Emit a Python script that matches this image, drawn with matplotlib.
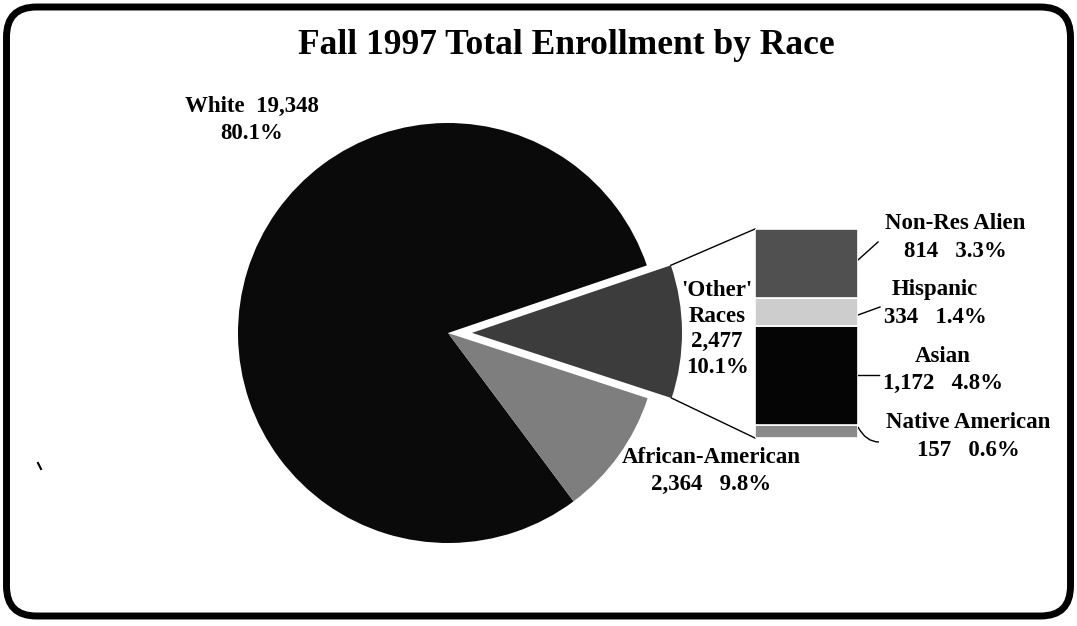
import matplotlib
matplotlib.use("Agg")
import matplotlib.pyplot as plt
from matplotlib.patches import FancyBboxPatch, PathPatch
from matplotlib.path import Path
import numpy as np

# ---------------- data ----------------
pie_categories = ["'Other'\nRaces", "White", "African-American"]
pie_counts = [2477, 19348, 2364]
pie_pcts = [10.1, 80.1, 9.8]

other_categories = ["Native American", "Asian", "Hispanic", "Non-Res Alien"]
other_counts = [157, 1172, 334, 814]
other_pcts = [0.6, 4.8, 1.4, 3.3]

title = "Fall 1997 Total Enrollment by Race"

# ---------------- styling ----------------
W, H = 1077, 626
FONT = "Liberation Serif"
pie_colors = ["#3c3c3c", "#0a0a0a", "#7e7e7e"]
bar_colors = ["#8a8a8a", "#050505", "#cdcdcd", "#505050"]

fig = plt.figure(figsize=(W / 100, H / 100), dpi=100)
ax = fig.add_axes([0, 0, 1, 1])

center = (448, H - 333)
radius = 210
wedges, _ = ax.pie(pie_counts, colors=pie_colors, startangle=-18.1,
                   counterclock=True, radius=radius, center=center,
                   explode=[24, 0, 0],
                   wedgeprops=dict(linewidth=0))
ax.set_aspect("auto")
ax.set_xlim(0, W)
ax.set_ylim(0, H)
ax.axis("off")

# border
ax.add_patch(FancyBboxPatch((6.5, 10), 1064, 609,
                            boxstyle="round,pad=0,rounding_size=30",
                            linewidth=5, edgecolor="black", facecolor="none",
                            zorder=5))
# small stray scan mark
ax.plot([38, 41], [H - 463, H - 469], color="black", lw=1.5)

# stacked bar for "other" races
bl, bb, bw, bh = 755, H - 438, 103, 209
ax_bar = fig.add_axes([bl / W, bb / H, bw / W, bh / H])
bottom = 0
for cnt, col in zip(other_counts, bar_colors):
    ax_bar.bar(0, cnt, bottom=bottom, width=1, color=col,
               edgecolor="white", linewidth=1.2)
    bottom += cnt
ax_bar.set_xlim(-0.5, 0.5)
ax_bar.set_ylim(0, sum(other_counts))
ax_bar.axis("off")

# connection lines from exploded wedge to bar
w = wedges[0]
cx, cy = w.center
r = w.r
top_pt = (cx + r * np.cos(np.radians(w.theta2)), cy + r * np.sin(np.radians(w.theta2)))
bot_pt = (cx + r * np.cos(np.radians(w.theta1)), cy + r * np.sin(np.radians(w.theta1)))
ax.plot([top_pt[0], bl], [top_pt[1], bb + bh], color="black", lw=1)
ax.plot([bot_pt[0], bl], [bot_pt[1], bb], color="black", lw=1)

# text
tkw = dict(fontfamily=FONT, fontweight="bold", ha="center")
ax.text(566, H - 54, title, fontsize=25.5, va="baseline", **tkw)

LFS = 16.5
ax.text(252, H - 120, f"White  {pie_counts[1]:,}\n{pie_pcts[1]}%",
        fontsize=LFS, linespacing=1.42, va="center", **tkw)
ax.text(717, H - 329, f"{pie_categories[0]}\n{pie_counts[0]:,}\n{pie_pcts[0]}%",
        fontsize=LFS, linespacing=1.3, va="center", **tkw)
ax.text(711, H - 471, f"{pie_categories[2]}\n{pie_counts[2]:,}   {pie_pcts[2]}%",
        fontsize=LFS, linespacing=1.42, va="center", **tkw)

label_pos = {"Non-Res Alien": (955, H - 237.5),
             "Hispanic": (935, H - 303.5),
             "Asian": (943, H - 370),
             "Native American": (968, H - 436.5)}
for cat, cnt, pct in zip(other_categories, other_counts, other_pcts):
    x, y = label_pos[cat]
    ax.text(x, y, f"{cat}\n{cnt:,}   {pct}%", fontsize=LFS,
            linespacing=1.38, va="center", **tkw)

# leader lines
br = bl + bw
ax.plot([br, 878], [H - 260, H - 242], color="black", lw=1)
ax.plot([br, 880], [H - 315, H - 307], color="black", lw=1)
ax.plot([br - 2, 879], [H - 375, H - 375], color="black", lw=1)
ax.add_patch(PathPatch(Path([(br, H - 427), (866, H - 442), (879, H - 442)],
                            [Path.MOVETO, Path.CURVE3, Path.CURVE3]),
                       facecolor="none", edgecolor="black", lw=1))

fig.savefig("out.png", dpi=100)
